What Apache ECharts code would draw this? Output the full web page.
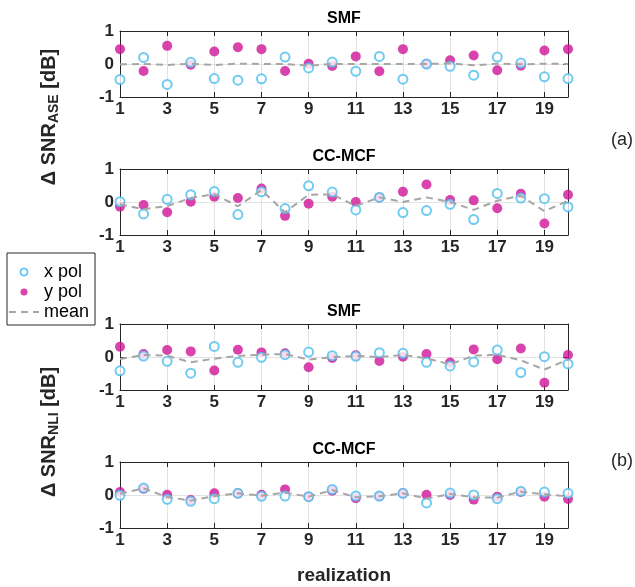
<!DOCTYPE html>
<html>
<head>
<meta charset="utf-8">
<script src="https://cdn.jsdelivr.net/npm/echarts@6/dist/echarts.min.js"></script>
<style>html,body{margin:0;padding:0;background:#fff}#main{width:635px;height:587px}</style>
</head>
<body>
<div id="main"></div>
<script>
var realization = [1, 2, 3, 4, 5, 6, 7, 8, 9, 10, 11, 12, 13, 14, 15, 16, 17, 18, 19, 20];
var panelTitles = ['SMF', 'CC-MCF', 'SMF', 'CC-MCF'];

// ASE, SMF
var smfAseX = [-0.47, 0.20, -0.62, 0.05, -0.44, -0.49, -0.45, 0.21, -0.12, 0.06, -0.22, 0.23, -0.46, 0.00, -0.07, -0.34, 0.21, 0.03, -0.39, -0.44];
var smfAseY = [0.45, -0.21, 0.55, -0.02, 0.38, 0.51, 0.45, -0.21, 0.01, -0.06, 0.23, -0.22, 0.45, 0.00, 0.11, 0.26, -0.19, -0.05, 0.41, 0.45];
var smfAseMean = [-0.01, 0.00, -0.03, 0.01, -0.03, 0.01, 0.00, 0.00, -0.05, 0.00, 0.00, 0.00, 0.00, 0.00, 0.02, -0.04, 0.01, -0.01, 0.01, 0.00];
// ASE, CC-MCF
var mcfAseX = [0.01, -0.36, 0.08, 0.22, 0.32, -0.38, 0.31, -0.20, 0.49, 0.30, -0.24, 0.14, -0.32, -0.26, -0.07, -0.53, 0.26, 0.12, 0.10, -0.15];
var mcfAseY = [-0.14, -0.09, -0.31, 0.01, 0.16, 0.12, 0.41, -0.42, -0.05, 0.16, 0.00, 0.14, 0.31, 0.53, 0.06, 0.05, -0.19, 0.25, -0.65, 0.22];
var mcfAseMean = [-0.07, -0.22, -0.12, 0.12, 0.24, -0.13, 0.36, -0.31, 0.22, 0.23, -0.12, 0.14, 0.00, 0.14, 0.00, -0.24, 0.04, 0.19, -0.28, 0.04];
// NLI, SMF
var smfNliX = [-0.42, 0.03, -0.13, -0.49, 0.32, -0.16, -0.01, 0.07, 0.15, 0.04, 0.02, 0.13, 0.11, -0.16, -0.27, -0.15, 0.21, -0.47, 0.01, -0.21];
var smfNliY = [0.31, 0.09, 0.21, 0.17, -0.41, 0.22, 0.14, 0.11, -0.31, -0.03, 0.05, -0.12, 0.01, 0.09, -0.17, 0.23, -0.07, 0.26, -0.78, 0.06];
var smfNliMean = [-0.06, 0.06, 0.04, -0.16, -0.05, 0.03, 0.07, 0.09, -0.08, 0.00, 0.03, 0.00, 0.06, -0.04, -0.22, 0.04, 0.07, -0.10, -0.38, -0.08];
// NLI, CC-MCF
var mcfNliX = [-0.01, 0.21, -0.13, -0.19, -0.11, 0.05, -0.04, -0.03, -0.05, 0.17, -0.03, -0.03, 0.05, -0.24, 0.06, 0.00, -0.11, 0.11, 0.09, 0.05];
var mcfNliY = [0.09, 0.19, 0.01, -0.15, 0.05, 0.05, 0.01, 0.17, -0.05, 0.13, -0.10, -0.04, 0.05, 0.01, 0.00, -0.14, -0.05, 0.09, -0.05, -0.12];
var mcfNliMean = [0.04, 0.20, -0.06, -0.17, -0.03, 0.05, -0.02, 0.07, -0.05, 0.15, -0.07, -0.04, 0.05, -0.11, 0.03, -0.07, -0.08, 0.10, 0.02, -0.04];

var panels = [
    [smfAseX, smfAseY, smfAseMean],
    [mcfAseX, mcfAseY, mcfAseMean],
    [smfNliX, smfNliY, smfNliMean],
    [mcfNliX, mcfNliY, mcfNliMean]
];

var FONT = 'Liberation Sans';
var AXIS_COLOR = '#262626';
var BLUE = '#4dbeee';
var MAGENTA = '#cf1497';
var MEAN_GRAY = '#a6a6a6';
var tops = [31, 169, 324, 462];
var GRID_LEFT = 120, GRID_W = 448, GRID_H = 66;

function pairs(vals) {
    return realization.map(function (r, i) { return [r, vals[i]]; });
}

var grids = [], xAxes = [], yAxes = [], series = [], graphics = [];

tops.forEach(function (top, i) {
    grids.push({ left: GRID_LEFT, top: top, width: GRID_W, height: GRID_H });
    var lineStyle = { color: AXIS_COLOR, width: 1 };
    // bottom axis, with labels
    xAxes.push({
        gridIndex: i, type: 'value', min: 1, max: 20, interval: 2, position: 'bottom',
        axisLine: { show: true, onZero: false, lineStyle: lineStyle },
        axisTick: { show: true, inside: true, length: 5, lineStyle: lineStyle },
        axisLabel: { show: true, margin: 4, color: AXIS_COLOR, fontFamily: FONT, fontWeight: 'bold', fontSize: 17, showMaxLabel: false },
        splitLine: { show: true, lineStyle: { color: '#e3e3e3', width: 1 } }
    });
    // top border
    xAxes.push({
        gridIndex: i, type: 'value', min: 1, max: 20, interval: 2, position: 'top',
        axisLine: { show: true, onZero: false, lineStyle: lineStyle },
        axisTick: { show: true, inside: true, length: 5, lineStyle: lineStyle },
        axisLabel: { show: false }, splitLine: { show: false }
    });
    yAxes.push({
        gridIndex: i, type: 'value', min: -1, max: 1, interval: 1, position: 'left',
        axisLine: { show: true, onZero: false, lineStyle: lineStyle },
        axisTick: { show: true, inside: true, length: 5, lineStyle: lineStyle },
        axisLabel: { show: true, margin: 6, color: AXIS_COLOR, fontFamily: FONT, fontWeight: 'bold', fontSize: 17 },
        splitLine: { show: true, lineStyle: { color: '#e3e3e3', width: 1 } }
    });
    yAxes.push({
        gridIndex: i, type: 'value', min: -1, max: 1, interval: 1, position: 'right',
        axisLine: { show: true, onZero: false, lineStyle: lineStyle },
        axisTick: { show: true, inside: true, length: 5, lineStyle: lineStyle },
        axisLabel: { show: false }, splitLine: { show: false }
    });

    var d = panels[i];
    series.push({
        name: 'y pol', type: 'scatter', xAxisIndex: 2 * i, yAxisIndex: 2 * i, clip: false,
        symbol: 'circle', symbolSize: 10, itemStyle: { color: MAGENTA },
        data: pairs(d[1]), z: 2
    });
    series.push({
        name: 'x pol', type: 'scatter', xAxisIndex: 2 * i, yAxisIndex: 2 * i, clip: false,
        symbol: 'emptyCircle', symbolSize: 9, itemStyle: { color: BLUE, borderColor: BLUE, borderWidth: 1.8 },
        data: pairs(d[0]), z: 3
    });
    series.push({
        name: 'mean', type: 'line', xAxisIndex: 2 * i, yAxisIndex: 2 * i, clip: false,
        symbol: 'none', lineStyle: { color: MEAN_GRAY, width: 2, type: [7, 5] },
        itemStyle: { color: MEAN_GRAY },
        data: pairs(d[2]), z: 4
    });

    graphics.push({
        type: 'text', x: GRID_LEFT + GRID_W / 2, y: top - 12,
        style: { text: panelTitles[i], fontFamily: FONT, fontWeight: 'bold', fontSize: 16, fill: '#000', textAlign: 'center', textVerticalAlign: 'middle' }
    });
});

var yTitleRich = {
    m: { fontFamily: FONT, fontWeight: 'bold', fontSize: 20, fill: AXIS_COLOR, lineHeight: 23 },
    s: { fontFamily: FONT, fontWeight: 'bold', fontSize: 14, fill: AXIS_COLOR, padding: [10, 0, 0, 0] }
};
graphics.push({
    type: 'text', x: 49, y: 117, rotation: Math.PI / 2,
    style: { text: '{m|Δ SNR}{s|ASE}{m| [dB]}', rich: yTitleRich, textAlign: 'center', textVerticalAlign: 'middle' }
});
graphics.push({
    type: 'text', x: 49, y: 432, rotation: Math.PI / 2,
    style: { text: '{m|Δ SNR}{s|NLI}{m| [dB]}', rich: yTitleRich, textAlign: 'center', textVerticalAlign: 'middle' }
});
graphics.push({
    type: 'text', x: 622, y: 140,
    style: { text: '(a)', fontFamily: FONT, fontSize: 18, fill: AXIS_COLOR, textAlign: 'center', textVerticalAlign: 'middle' }
});
graphics.push({
    type: 'text', x: 622, y: 461,
    style: { text: '(b)', fontFamily: FONT, fontSize: 18, fill: AXIS_COLOR, textAlign: 'center', textVerticalAlign: 'middle' }
});
graphics.push({
    type: 'text', x: GRID_LEFT + GRID_W / 2, y: 576,
    style: { text: 'realization', fontFamily: FONT, fontWeight: 'bold', fontSize: 19, fill: AXIS_COLOR, textAlign: 'center', textVerticalAlign: 'middle' }
});

var chart = echarts.init(document.getElementById('main'), null, { renderer: 'canvas' });
chart.setOption({
    animation: false,
    backgroundColor: '#fff',
    legend: {
        data: [
            { name: 'x pol', icon: 'emptyCircle' },
            { name: 'y pol', icon: 'circle' },
            { name: 'mean', itemStyle: { opacity: 0 }, lineStyle: { color: MEAN_GRAY, width: 2, type: [7, 5] } }
        ],
        orient: 'vertical', left: 7, top: 253,
        padding: [10, 6, 4, 1], itemGap: 2, itemWidth: 30, itemHeight: 7,
        backgroundColor: '#fff', borderColor: AXIS_COLOR, borderWidth: 1,
        selectedMode: false,
        textStyle: { fontFamily: FONT, fontSize: 18, color: '#000' }
    },
    grid: grids,
    xAxis: xAxes,
    yAxis: yAxes,
    series: series,
    graphic: graphics
});
</script>
</body>
</html>
